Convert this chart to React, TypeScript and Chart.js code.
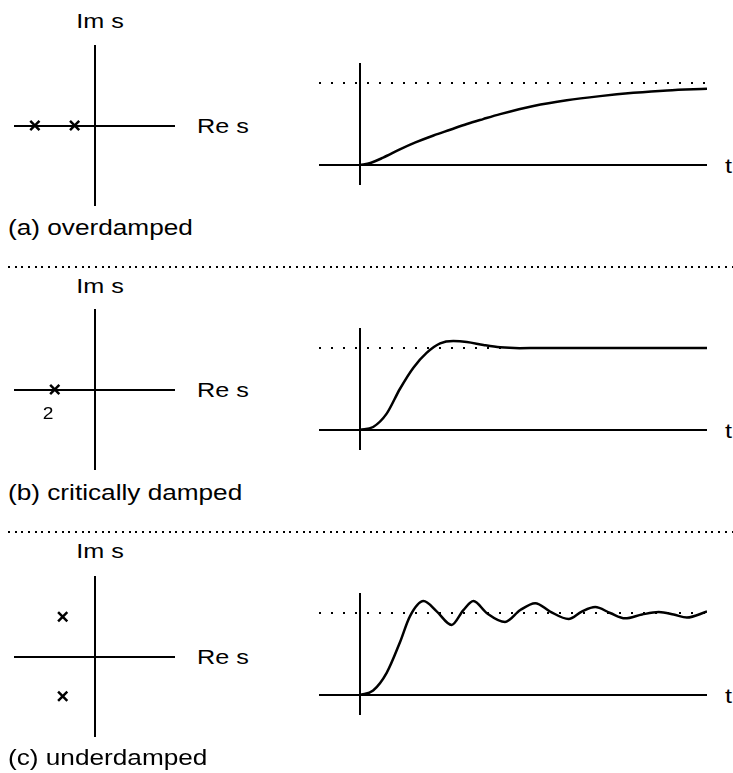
import React, { useEffect, useRef } from "react";
import { Chart, registerables } from "chart.js";

Chart.register(...registerables);

// ---------- data ----------
// pole locations in the s-plane (Re, Im)
const polesOverdamped = [
  { x: -3, y: 0 },
  { x: -1, y: 0 },
];
const polesCritical = [{ x: -2, y: 0 }];
const polesUnderdamped = [
  { x: -1.6, y: 2 },
  { x: -1.6, y: -2 },
];
const criticalMultiplicity = "2";

// step responses (time, normalised output; 1 = final value)
const timeOverdamped = [0, 0.3, 0.67, 1.15, 1.6, 2.12, 2.6, 3.08, 3.55, 4.04, 5.0, 5.96, 6.92, 7.88, 8.85, 10];
const respOverdamped = [0, 0.025, 0.09, 0.19, 0.275, 0.36, 0.43, 0.5, 0.56, 0.62, 0.72, 0.79, 0.84, 0.88, 0.91, 0.93];

const timeCritical = [0, 0.38, 0.77, 1.15, 1.54, 1.92, 2.31, 2.69, 3.08, 3.56, 4.04, 4.6, 5.2, 7, 10];
const respCritical = [0, 0.037, 0.2, 0.5, 0.76, 0.94, 1.056, 1.085, 1.074, 1.037, 1.008, 0.998, 1.0, 1.0, 1.0];

const timeUnder = [0, 0.38, 0.77, 1.15, 1.44, 1.83, 2.21, 2.64, 2.98, 3.27, 3.65, 4.18, 4.62, 5.05, 5.48, 6.01, 6.39, 6.78, 7.21, 7.64, 8.13, 8.61, 9.04, 9.42, 10];
const respUnder = [0, 0.055, 0.27, 0.64, 0.96, 1.145, 1.02, 0.855, 1.036, 1.145, 1.0, 0.89, 1.036, 1.12, 1.018, 0.927, 1.018, 1.073, 1.0, 0.935, 0.982, 1.011, 0.982, 0.945, 1.018];

const finalValue = 1;
const timeRange = [-1.18, 10];
const respRange = [-0.244, 1.244];
const planeRange = [-4.05, 4.05];

const rowLabels = ["(a) overdamped", "(b) critically damped", "(c) underdamped"];
const imLabel = "Im s";
const reLabel = "Re s";
const timeLabel = "t";

// ---------- helpers ----------
const PAD = 8;
const FONT = '"Liberation Sans", Arial, Helvetica, sans-serif';

function zeroAxis(min: number, max: number, horizontal: boolean) {
  return {
    type: "linear" as const,
    min,
    max,
    afterBuildTicks: (s: any) => {
      s.ticks = [{ value: 0 }];
    },
    afterFit: (s: any) => {
      if (horizontal) s.height = 0;
      else s.width = 0;
    },
    ticks: { display: false },
    border: { display: false },
    grid: { color: "#000", lineWidth: 2, drawTicks: false },
  };
}

const baseOptions = (xr: number[], yr: number[]) => ({
  responsive: false,
  animation: false as const,
  events: [] as any[],
  layout: { padding: PAD },
  plugins: { legend: { display: false }, tooltip: { enabled: false } },
  scales: {
    x: zeroAxis(xr[0], xr[1], true),
    y: zeroAxis(yr[0], yr[1], false),
  },
});

function ResponseChart({ left, top, width, height, times, values }: any) {
  const ref = useRef<HTMLCanvasElement>(null);
  useEffect(() => {
    const chart = new Chart(ref.current!, {
      type: "line",
      data: {
        datasets: [
          {
            data: times.map((t: number, i: number) => ({ x: t, y: values[i] })),
            borderColor: "#000",
            borderWidth: 2.5,
            pointRadius: 0,
            cubicInterpolationMode: "monotone",
            order: 1,
          },
          {
            data: [
              { x: timeRange[0], y: finalValue },
              { x: timeRange[1], y: finalValue },
            ],
            borderColor: "#000",
            borderWidth: 2,
            borderDash: [2, 10],
            pointRadius: 0,
            order: 2,
          },
        ],
      },
      options: baseOptions(timeRange, respRange) as any,
    });
    return () => chart.destroy();
  }, []);
  return (
    <canvas
      ref={ref}
      width={width + 2 * PAD}
      height={height + 2 * PAD}
      style={{ position: "absolute", left: left - PAD, top: top - PAD, width: width + 2 * PAD, height: height + 2 * PAD }}
    />
  );
}

function PlaneChart({ left, top, size, poles }: any) {
  const ref = useRef<HTMLCanvasElement>(null);
  useEffect(() => {
    const chart = new Chart(ref.current!, {
      type: "scatter",
      data: {
        datasets: [
          {
            data: poles,
            pointStyle: "crossRot",
            pointRadius: 6.5,
            borderWidth: 2.5,
            borderColor: "#000",
            backgroundColor: "#000",
          },
        ],
      },
      options: baseOptions(planeRange, planeRange) as any,
    });
    return () => chart.destroy();
  }, []);
  return (
    <canvas
      ref={ref}
      width={size + 2 * PAD}
      height={size + 2 * PAD}
      style={{ position: "absolute", left: left - PAD, top: top - PAD, width: size + 2 * PAD, height: size + 2 * PAD }}
    />
  );
}

function Label({ x, y, text, center, size = 21, sx = 1.2 }: any) {
  return (
    <div
      style={{
        position: "absolute",
        left: x,
        top: y,
        fontFamily: FONT,
        fontSize: size,
        lineHeight: `${size}px`,
        whiteSpace: "nowrap",
        color: "#000",
        transformOrigin: center ? "center center" : "left center",
        transform: center ? `translate(-50%, -50%) scaleX(${sx})` : `translateY(-50%) scaleX(${sx})`,
      }}
    >
      {text}
    </div>
  );
}

function Separator({ y }: any) {
  return (
    <div
      style={{
        position: "absolute",
        left: 8,
        top: y - 1,
        width: 725,
        height: 2,
        background: "repeating-linear-gradient(to right, #000 0px, #000 2px, transparent 2px, transparent 6.7px)",
      }}
    />
  );
}

const rows = [
  { y0: 165, pz: 125, poles: polesOverdamped, times: timeOverdamped, values: respOverdamped },
  { y0: 430, pz: 389, poles: polesCritical, times: timeCritical, values: respCritical },
  { y0: 695, pz: 656, poles: polesUnderdamped, times: timeUnder, values: respUnder },
];

export default function App() {
  return (
    <div style={{ position: "absolute", left: 0, top: 0, width: 733, height: 773, background: "#fff", overflow: "hidden" }}>
      {rows.map((r, i) => (
        <React.Fragment key={i}>
          <PlaneChart left={13} top={r.pz - 81} size={163} poles={r.poles} />
          <ResponseChart left={319} top={r.y0 - 102} width={388} height={122} times={r.times} values={r.values} />
          <Label x={100} y={r.y0 - 145} text={imLabel} center />
          <Label x={197} y={r.pz} text={reLabel} />
          <Label x={725} y={r.y0} text={timeLabel} />
          <Label x={8} y={r.y0 + 63} text={rowLabels[i]} size={22} sx={1.19} />
        </React.Fragment>
      ))}
      <Label x={48} y={414} text={criticalMultiplicity} center size={16} />
      <Separator y={267} />
      <Separator y={532} />
    </div>
  );
}
